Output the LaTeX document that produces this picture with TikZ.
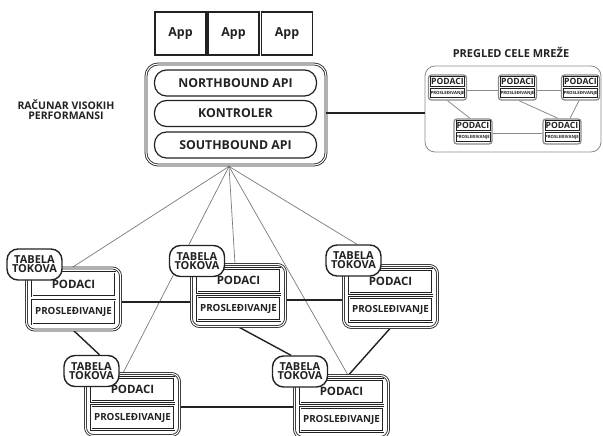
\documentclass[tikz,border=0pt]{standalone}
\usepackage{fontspec}
\setmainfont{Open Sans}
\usetikzlibrary{backgrounds}
\definecolor{txt}{HTML}{222222}
\definecolor{thin}{HTML}{7A7A7A}
\definecolor{mini}{HTML}{8A8A8A}
\newcommand\switchnode[5]{%
  \node[swbox] (#1o) at ({#2+48.5},{#3+32.5}) {};
  \node[podbox] (#1d) at ({#2+48.5},{#3+17.5}) {PODACI};
  \node[probox] (#1r) at ({#2+48.5},{#3+45.5}) {PROSLEĐIVANJE};
  \node[tabpill] (#1p) at (#4,#5) {TABELA\\TOKOVA};
}
\newcommand\mininode[3]{%
  \node[minibox] (#1) at (#2,#3) {};
  \node[minipod] (#1p) at ({#2},{#3-5.8}) {PODACI};
  \node[minipro] (#1r) at ({#2},{#3+5.6}) {PROSLEĐIVANJE};
}
\begin{document}
\begin{tikzpicture}[x=1pt,y=-1pt,
  every node/.style={inner sep=0pt, text=txt, font=\bfseries},
  appbox/.style={draw=txt, line width=1.2pt, minimum width=51pt, minimum height=43pt, font=\bfseries\fontsize{12.4}{14}\selectfont},
  ctrlbox/.style={draw=txt, double=white, double distance=1.1pt, line width=0.85pt, rounded corners=12pt, minimum width=180pt, minimum height=101pt},
  apipill/.style={draw=txt, line width=1.2pt, rounded corners=12pt, minimum width=162pt, minimum height=26pt, font=\bfseries\fontsize{12.3}{14}\selectfont},
  swbox/.style={draw=txt, fill=white, double=white, double distance=1.1pt, line width=0.85pt, rounded corners=8pt, minimum width=94pt, minimum height=62pt},
  podbox/.style={draw=txt, fill=white, double=white, double distance=0.9pt, line width=0.7pt, minimum width=83pt, minimum height=24pt, font=\bfseries\fontsize{11.5}{13}\selectfont},
  probox/.style={podbox, font=\bfseries\fontsize{9.8}{11}\selectfont},
  tabpill/.style={draw=txt, fill=white, line width=1.4pt, rounded corners=11pt, minimum width=55pt, minimum height=31pt, align=center, font=\bfseries\fontsize{11}{8.8}\selectfont},
  thinline/.style={draw=thin, line width=0.7pt},
  thickline/.style={draw=txt, line width=1.4pt},
  netbox/.style={draw=mini, line width=0.8pt, rounded corners=10pt, minimum width=176pt, minimum height=86pt},
  minibox/.style={draw=mini, line width=1.3pt, fill=white, rounded corners=3pt, minimum width=38pt, minimum height=25pt},
  minipod/.style={draw=txt, line width=0.5pt, minimum width=34pt, minimum height=10pt, font=\bfseries\fontsize{8.6}{9}\selectfont},
  minipro/.style={draw=txt, line width=0.5pt, minimum width=34pt, minimum height=9pt, font=\bfseries\fontsize{4.3}{5}\selectfont},
  miniline/.style={draw=mini, line width=0.8pt},
  label/.style={align=center, font=\bfseries\fontsize{10.5}{10}\selectfont},
  title/.style={font=\bfseries\fontsize{11}{13}\selectfont}
]
\useasboundingbox (0,0) rectangle (603,436);

% apps
\node[appbox] (app1) at (180.5,33.5) {App};
\node[appbox] (app2) at (233.5,33.5) {App};
\node[appbox] (app3) at (287,33.5) {App};

% controller
\node[ctrlbox] (ctrl) at (236,114.5) {};
\node[apipill] (nb) at (235.5,83) {NORTHBOUND API};
\node[apipill] (kon) at (235.5,113.5) {KONTROLER};
\node[apipill] (sb) at (235.5,145) {SOUTHBOUND API};
\node[label] (hpc) at (66,110) {RAČUNAR VISOKIH\\PERFORMANSI};
\coordinate (apex) at ([xshift=-7pt,yshift=-1pt]ctrl.south);

% network view
\node[title] (ttl) at (511,52) {PREGLED CELE MREŽE};
\node[netbox] (net) at (513,109) {};
\draw[thickline, line width=1.2pt] (ctrl.east |- 0,113) -- (net.west |- 0,113);
\mininode{ma}{447.5}{87.5}
\mininode{mb}{517.5}{87.5}
\mininode{mc}{580.5}{87.5}
\mininode{md}{473}{131.5}
\mininode{me}{562}{131.5}
\begin{pgfonlayer}{background}
\draw[miniline] (ma.east |- 0,90) -- (mb.west |- 0,90);
\draw[miniline] (mb.east |- 0,90) -- (mc.west |- 0,90);
\draw[miniline] (ma.south) -- ([xshift=-3pt]md.north);
\draw[miniline] ([xshift=1.5pt]mb.south) -- ([xshift=-4pt]me.north);
\draw[miniline] ([xshift=-1.5pt]mc.south) -- ([xshift=8pt]me.north);
\draw[miniline] (md.east |- 0,133) -- (me.west |- 0,133);
\end{pgfonlayer}

% switches
\switchnode{s1}{25}{266.5}{34.5}{264.5}
\switchnode{s2}{190}{263}{197}{261}
\switchnode{s3}{342}{264}{353.5}{260.5}
\switchnode{s4}{84}{372}{91.5}{371}
\switchnode{s5}{293}{374}{300}{371.5}

\begin{pgfonlayer}{background}
% thin links from the controller
\draw[thinline] (apex) -- ([xshift=-1.5pt]s1o.north);
\draw[thinline] (apex) -- ([xshift=-9.5pt]s4o.north);
\draw[thinline] (apex) -- ([xshift=-3.5pt]s2o.north);
\draw[thinline] (apex) -- ([xshift=6.5pt]s5o.north);
\draw[thinline] (apex) -- ([xshift=3.5pt]s3p.north);
% links between switches
\draw[thickline] (s1o.east |- 0,302) -- (s2o.west |- 0,302);
\draw[thickline] (s2o.east |- 0,300) -- (s3o.west |- 0,300);
\draw[thickline] (s1o.south) -- ([xshift=8pt]s4p.north);
\draw[thickline] (s2o.south) -- ([xshift=-9pt]s5p.north);
\draw[thickline] (s3o.south) -- ([xshift=7pt]s5o.north);
\draw[thickline] (s4o.east |- 0,407) -- (s5o.west |- 0,407);
\end{pgfonlayer}
\end{tikzpicture}
\end{document}
